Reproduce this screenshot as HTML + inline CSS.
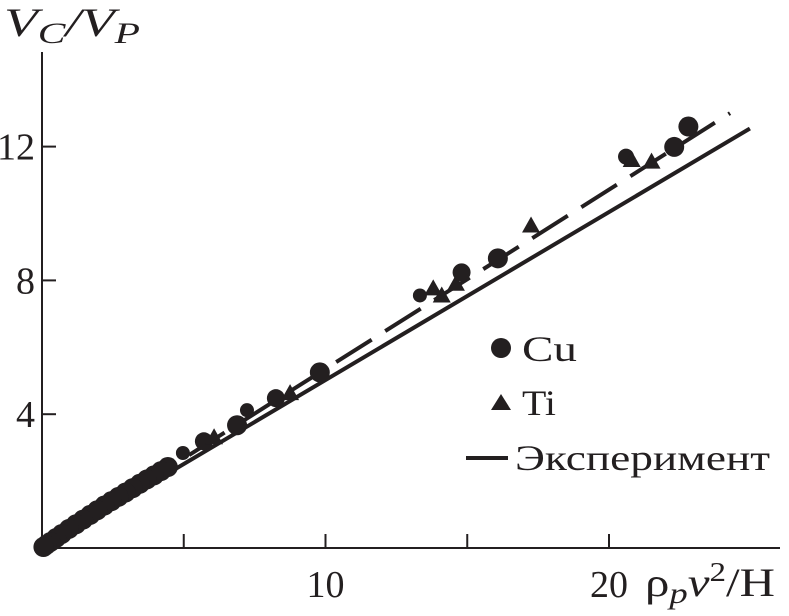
<!DOCTYPE html>
<html><head><meta charset="utf-8"><style>
html,body{margin:0;padding:0;background:#fff;}
svg{display:block;font-family:"Liberation Serif",serif;}
</style></head><body>
<svg id="chart" width="789" height="616" viewBox="0 0 789 616" xmlns="http://www.w3.org/2000/svg">
<g id="axes"></g>
<g id="marks"></g>
<text x="4" y="36" font-size="40" font-style="italic" fill="#231f20" textLength="136" lengthAdjust="spacingAndGlyphs">V<tspan font-size="30" dy="7">C</tspan><tspan dy="-7">/V</tspan><tspan font-size="30" dy="7">P</tspan></text>
<text x="645" y="596" font-size="40" fill="#231f20" textLength="130" lengthAdjust="spacingAndGlyphs">ρ<tspan font-size="30" font-style="italic" dy="7">p</tspan><tspan font-style="italic" dy="-7">v</tspan><tspan font-size="27" dy="-15">2</tspan><tspan dy="15">/H</tspan></text>
<g font-size="36" fill="#231f20">
<circle cx="501" cy="348" r="10" fill="#231f20"/>
<text x="522" y="361" textLength="55" lengthAdjust="spacingAndGlyphs">Cu</text>
<polygon points="491,410 511,410 501,394" fill="#231f20"/>
<text x="522" y="415" textLength="34" lengthAdjust="spacingAndGlyphs">Ti</text>
<line x1="466" y1="458" x2="508" y2="458" stroke="#231f20" stroke-width="4"/>
<text x="515" y="470" textLength="255" lengthAdjust="spacingAndGlyphs">Эксперимент</text>
</g>
</svg>
<script>
const xTicks=[5,10,15,20];
const xTickLabels=["","10","","20"];
const yTicks=[4,8,12];
const yTickLabels=["4","8","12"];
const cuX=[22.8,22.3,20.6,16.08,14.8,13.33,9.8,8.25,7.23,6.88,5.71,4.97,4.44,4.2,3.95,3.7,3.45,3.2,2.95,2.7,2.45,2.2,1.95,1.7,1.45,1.2,0.95,0.7,0.5,0.3,0.15,0.05];
const cuY=[12.6,11.99,11.7,8.66,8.24,7.55,5.25,4.48,4.12,3.67,3.19,2.84,2.42,2.3,2.17,2.05,1.92,1.79,1.66,1.53,1.4,1.27,1.13,0.99,0.85,0.71,0.57,0.42,0.3,0.18,0.09,0.03];
const cuR=[10,10,8,10,9,7,10,9,7,10,9,7,10,10,10,10,10,10,10,10,10,10,10,10,10,10,10,10,10,10,10,10];
const tiX=[21.5,20.8,17.25,14.1,13.8,14.6,8.75,6.07];
const tiY=[11.55,11.6,9.64,7.55,7.76,7.9,4.63,3.31];
const expLineX=[0,24.97];
const expLineY=[0,12.54];
const fitLineX=[0,24.27];
const fitLineY=[0,13.0];
const X0=42,Y0=548,PX=28.35,PY=33.45;
const sx=v=>X0+v*PX, sy=v=>Y0-v*PY;
const NS="http://www.w3.org/2000/svg";
const ax=document.getElementById('axes'), mk=document.getElementById('marks');
function mkEl(t,a,p){const e=document.createElementNS(NS,t);for(const k in a)e.setAttribute(k,a[k]);p.appendChild(e);return e;}
let e=mkEl('line',{x1:X0,y1:52,x2:X0,y2:Y0,stroke:'#231f20','stroke-width':2},ax);


e=mkEl('line',{x1:X0,y1:Y0,x2:780,y2:Y0,stroke:'#231f20','stroke-width':2},ax);


xTicks.forEach((t,i)=>{
 const l=mkEl('line',{x1:sx(t),y1:Y0,x2:sx(t),y2:Y0-14,stroke:'#231f20','stroke-width':2},ax);
 
 
 if(xTickLabels[i]){const tx=mkEl('text',{x:sx(t),y:597,'text-anchor':'middle','font-size':38,fill:'#231f20',textLength:38,lengthAdjust:'spacingAndGlyphs'},ax);tx.textContent=xTickLabels[i];
 
 }
});
yTicks.forEach((t,i)=>{
 const l=mkEl('line',{x1:X0,y1:sy(t),x2:X0+14,y2:sy(t),stroke:'#231f20','stroke-width':2},ax);
 
 
 const tx=mkEl('text',{x:35,y:sy(t)+13,'text-anchor':'end','font-size':38,fill:'#231f20'},ax);tx.textContent=yTickLabels[i];
 
 
});
e=mkEl('line',{x1:sx(expLineX[0]),y1:sy(expLineY[0]),x2:sx(expLineX[1]),y2:sy(expLineY[1]),stroke:'#231f20','stroke-width':4},mk);


e=mkEl('line',{x1:sx(fitLineX[0]),y1:sy(fitLineY[0]),x2:sx(fitLineX[1]),y2:sy(fitLineY[1]),stroke:'#231f20','stroke-width':4,'stroke-dasharray':'42 16'},mk);


cuX.forEach((x,i)=>{
 const c=mkEl('circle',{cx:sx(x),cy:sy(cuY[i]),r:cuR[i],fill:'#231f20'},mk);
 
 
});
tiX.forEach((x,i)=>{
 const cx=sx(x),cy=sy(tiY[i]);
 const p=mkEl('polygon',{points:`${cx-9},${cy+7} ${cx+9},${cy+7} ${cx},${cy-9}`,fill:'#231f20'},mk);
 
 
});
</script>
</body></html>
